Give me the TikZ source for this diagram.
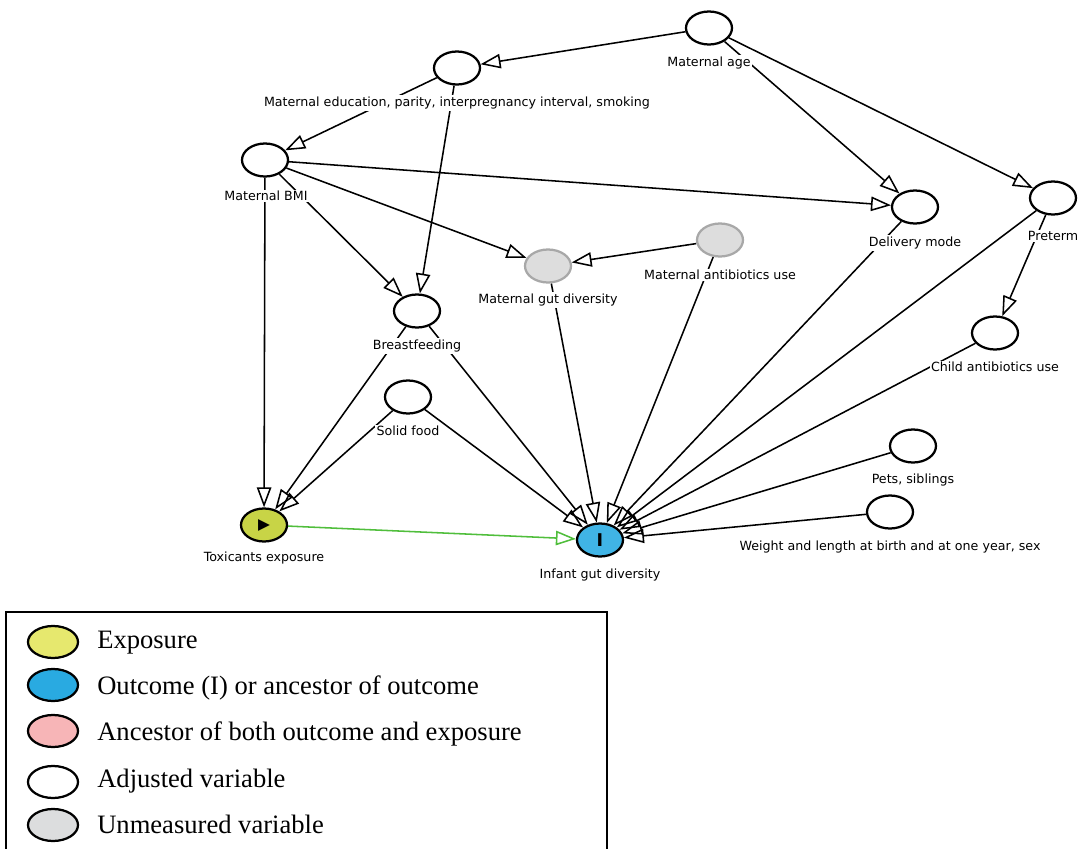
\documentclass[tikz,border=0pt]{standalone}
\usepackage{fontspec}
\setmainfont{DejaVu Sans}
\newfontfamily\legfont{Liberation Serif}
\usetikzlibrary{shapes.geometric,arrows.meta,positioning}

\pgfdeclarelayer{background}
\pgfsetlayers{background,main}

\definecolor{expoC}{RGB}{200,212,70}
\definecolor{outcC}{RGB}{64,180,230}
\definecolor{unmC}{RGB}{221,221,221}
\definecolor{unmD}{RGB}{168,168,168}
\definecolor{arrG}{RGB}{80,190,60}
\definecolor{legExpo}{RGB}{230,232,110}
\definecolor{legOutc}{RGB}{41,170,225}
\definecolor{legAnc}{RGB}{247,181,183}
\definecolor{legUnm}{RGB}{220,221,222}

\begin{document}
\begin{tikzpicture}[x=0.025cm,y=-0.025cm,
    adj/.style={ellipse, draw, line width=1.6pt, fill=white, minimum width=1.15cm, minimum height=0.825cm, inner sep=0pt},
    unm/.style={adj, draw=unmD, fill=unmC},
    expo/.style={adj, fill=expoC},
    outc/.style={adj, fill=outcC},
    lbl/.style={fill=white, inner sep=1pt, font=\fontsize{9}{10}\selectfont},
    conn/.style={draw, line width=1.1pt, -{Triangle[open, length=0.5cm, width=0.36cm]}},
    expoconn/.style={conn, draw=arrG},
    %legend
    legitem/.style={ellipse, draw, line width=1.6pt, minimum width=1.25cm, minimum height=0.8cm, inner sep=0pt},
    legtext/.style={anchor=base west, inner sep=0pt, font=\legfont\fontsize{18.9}{20}\selectfont}
    ]
\useasboundingbox (0,0) rectangle (1081,849);

% variables
\node[adj] (age) at (709,28) {};
\node[adj] (edu) at (457,68) {};
\node[adj] (bmi) at (265,160) {};
\node[adj] (deliv) at (915,207) {};
\node[adj] (preterm) at (1053,198) {};
\node[unm] (mgut) at (548,266) {};
\node[unm] (mab) at (720,240) {};
\node[adj] (breast) at (417,311) {};
\node[adj] (cab) at (995,333) {};
\node[adj] (solid) at (408,397) {};
\node[adj] (pets) at (913,446) {};
\node[adj] (weight) at (890,512) {};
\node[expo] (tox) at (264,525) {\fontsize{11}{11}\selectfont ▶};
\node[outc] (infant) at (600,540) {\fontsize{12.5}{12.5}\selectfont\bfseries I};

% labels
\node[lbl] (age-l) at (709,63) {Maternal age};
\node[lbl] (edu-l) at (457,103) {Maternal education, parity, interpregnancy interval, smoking};
\node[lbl] (bmi-l) at (266,196) {Maternal BMI};
\node[lbl] (deliv-l) at (915,243) {Delivery mode};
\node[lbl] (preterm-l) at (1053,236) {Preterm};
\node[lbl] (mgut-l) at (548,300) {Maternal gut diversity};
\node[lbl] (mab-l) at (720,275) {Maternal antibiotics use};
\node[lbl] (breast-l) at (417,346) {Breastfeeding};
\node[lbl] (cab-l) at (995,367) {Child antibiotics use};
\node[lbl] (solid-l) at (408,431) {Solid food};
\node[lbl] (pets-l) at (913,480) {Pets, siblings};
\node[lbl] (weight-l) at (890,547) {Weight and length at birth and at one year, sex};
\node[lbl] (tox-l) at (264,558) {Toxicants exposure};
\node[lbl] (infant-l) at (600,575) {Infant gut diversity};

\begin{pgfonlayer}{background}
  \draw[conn] (age) -- (edu);
  \draw[conn] (age) -- (deliv);
  \draw[conn] (age) -- (preterm);
  \draw[conn] (edu) -- (bmi);
  \draw[conn] (edu) -- (breast);
  \draw[conn] (bmi) -- (deliv);
  \draw[conn] (bmi) -- (mgut);
  \draw[conn] (bmi) -- (breast);
  \draw[conn] (bmi) -- (tox);
  \draw[conn] (mab) -- (mgut);
  \draw[conn] (preterm) -- (cab);
  \draw[conn] (breast) -- (tox);
  \draw[conn] (solid) -- (tox);
  \draw[conn] (breast) -- (infant);
  \draw[conn] (solid) -- (infant);
  \draw[conn] (mgut) -- (infant);
  \draw[conn] (mab) -- (infant);
  \draw[conn] (deliv) -- (infant);
  \draw[conn] (preterm) -- (infant);
  \draw[conn] (cab) -- (infant);
  \draw[conn] (pets) -- (infant);
  \draw[conn] (weight) -- (infant);
  \draw[expoconn] (tox) -- (infant);
\end{pgfonlayer}

% legend
\coordinate (leg-bl) at (6,850);
\coordinate (leg-tr) at (607,612);
\draw[line width=1.1pt] (leg-bl) |- (leg-tr) -- (leg-tr |- leg-bl);
\node[legitem, fill=legExpo] (leg-expo) at (53,642) {};
\node[legitem, fill=legOutc] (leg-outc) at (53,685) {};
\node[legitem, fill=legAnc] (leg-anc) at (53,731) {};
\node[legitem, fill=white] (leg-adj) at (53,782) {};
\node[legitem, fill=legUnm] (leg-unm) at (53,825) {};
\node[legtext] (leg-expo-t) at (97,648) {Exposure};
\node[legtext] (leg-outc-t) at (97,694) {Outcome (I) or ancestor of outcome};
\node[legtext] (leg-anc-t) at (97,740) {Ancestor of both outcome and exposure};
\node[legtext] (leg-adj-t) at (97,787) {Adjusted variable};
\node[legtext] (leg-unm-t) at (97,833) {Unmeasured variable};
\end{tikzpicture}
\end{document}
